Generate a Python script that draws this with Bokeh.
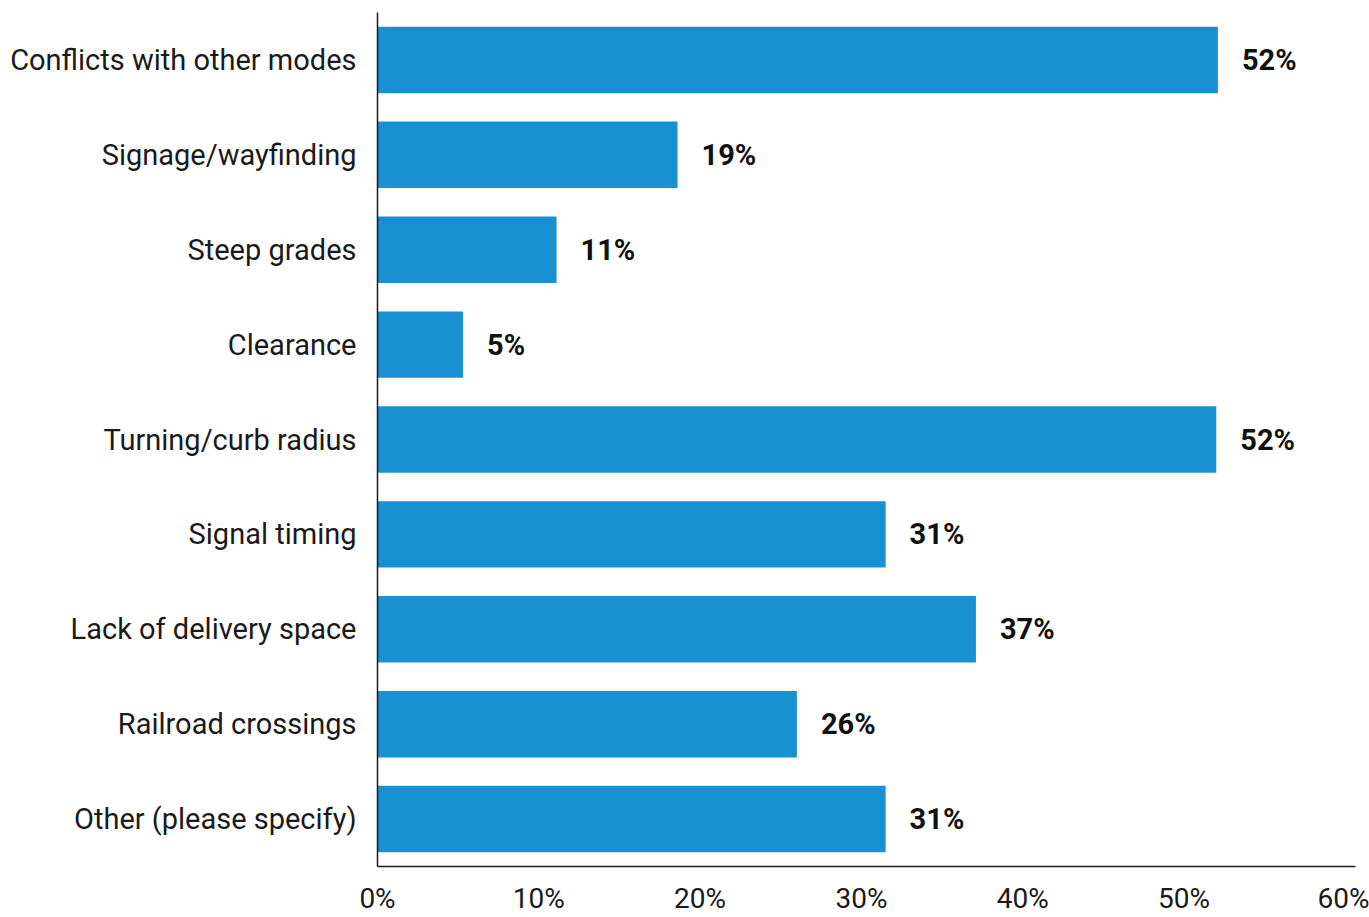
from bokeh.plotting import figure
from bokeh.models import FactorRange, Range1d, FixedTicker, PrintfTickFormatter, ColumnDataSource
from bokeh.core.properties import value
from bokeh.embed import file_html
from bokeh.resources import INLINE

categories = ["Conflicts with other modes", "Signage/wayfinding", "Steep grades", "Clearance",
              "Turning/curb radius", "Signal timing", "Lack of delivery space",
              "Railroad crossings", "Other (please specify)"]
values = [52.1, 18.6, 11.1, 5.3, 52.0, 31.5, 37.1, 26.0, 31.5]
labels = ["52%", "19%", "11%", "5%", "52%", "31%", "37%", "26%", "31%"]
ticks = [0, 10, 20, 30, 40, 50, 60]

FONT = "Roboto"
BAR = "#1890d1"
INK = "#1a1a1a"

src = ColumnDataSource(dict(cat=categories, val=values, lab=labels))

p = figure(width=1369, height=917, output_backend="svg", toolbar_location=None,
           y_range=FactorRange(*list(reversed(categories)), range_padding=0),
           x_range=Range1d(0, 60.63),
           min_border_left=377, min_border_right=14, min_border_top=12, min_border_bottom=49)

p.hbar(y="cat", right="val", left=0, height=0.7, source=src, color=BAR, line_color=None)
p.text(x="val", y="cat", text="lab", source=src, x_offset=24, text_align="left",
       text_baseline="middle", text_font=value(FONT), text_font_style="bold",
       text_font_size="29px", text_color="#111111")

p.outline_line_color = None
p.grid.grid_line_color = None
p.background_fill_color = "white"

for ax in (p.xaxis[0], p.yaxis[0]):
    ax.axis_line_color = INK
    ax.axis_line_width = 1.5
    ax.major_tick_line_color = None
    ax.minor_tick_line_color = None
    ax.major_label_text_font = FONT
    ax.major_label_text_color = INK

p.yaxis.major_label_text_font_size = "29px"
p.xaxis.major_label_text_font_size = "28px"
p.yaxis.major_label_standoff = 15
p.xaxis.major_label_standoff = 9
p.xaxis.ticker = FixedTicker(ticks=ticks)
p.xaxis.formatter = PrintfTickFormatter(format="%d%%")

open("out.html", "w").write(file_html(p, INLINE))
